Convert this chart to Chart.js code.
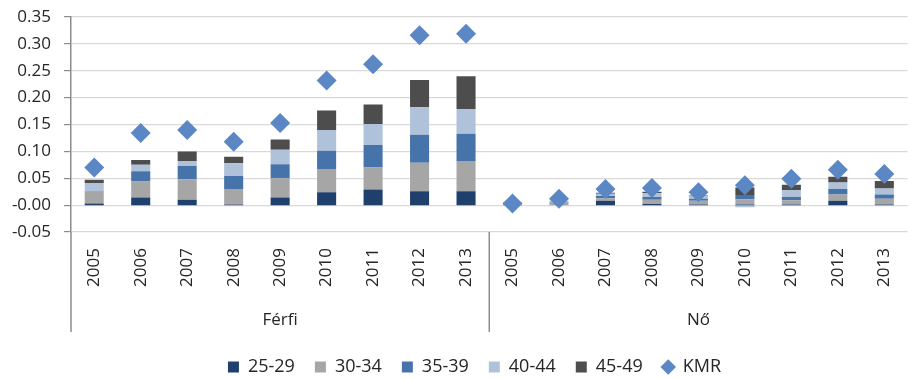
<!DOCTYPE html>
<html>
<head>
<meta charset="utf-8">
<script src="https://cdn.jsdelivr.net/npm/chart.js@4"></script>
<style>
  html, body { margin: 0; padding: 0; background: #fff; overflow: hidden; }
  /* the original plot runs a little past the right edge of the picture */
  #wrap { width: 921px; height: 379px; }
</style>
</head>
<body>
<div id="wrap"><canvas id="chart"></canvas></div>
<script>
// categories: two groups of years
const groups = ['Férfi', 'Nő'];
const years = ['2005', '2006', '2007', '2008', '2009', '2010', '2011', '2012', '2013'];
const labels = years.concat(years);

// age group shares (Férfi 2005-2013, then Nő 2005-2013)
const age2529 = [0.003, 0.014, 0.010, 0.001, 0.014, 0.024, 0.029, 0.026, 0.026,
                 0.000, 0.000, 0.008, 0.002, 0.001, 0.001, 0.001, 0.008, 0.001];
const age3034 = [0.022, 0.030, 0.038, 0.029, 0.036, 0.043, 0.041, 0.053, 0.056,
                 0.004, 0.005, 0.005, 0.008, 0.007, 0.010, 0.008, 0.012, 0.011];
const age3539 = [0.001, 0.019, 0.025, 0.024, 0.026, 0.034, 0.042, 0.052, 0.051,
                 0.000, 0.001, 0.004, 0.005, 0.004, 0.008, 0.006, 0.010, 0.008];
const age4044 = [0.015, 0.012, 0.009, 0.024, 0.027, 0.039, 0.039, 0.051, 0.046,
                 0.002, 0.002, 0.004, 0.007, 0.005, -0.004, 0.013, 0.012, 0.011];
const age4549 = [0.006, 0.009, 0.018, 0.012, 0.019, 0.036, 0.036, 0.051, 0.061,
                 0.000, 0.000, 0.002, 0.003, 0.001, 0.014, 0.010, 0.011, 0.014];
const kmr = [0.070, 0.134, 0.140, 0.118, 0.153, 0.232, 0.262, 0.316, 0.319,
             0.003, 0.012, 0.030, 0.032, 0.024, 0.037, 0.049, 0.066, 0.058];

const FONT = "'Open Sans', sans-serif";
const TEXT = '#262626';
const AXIS = '#8c8c8c';

function barSet(label, data, color) {
    return {
        type: 'bar', label: label, data: data,
        backgroundColor: color, borderWidth: 0,
        pointStyle: 'rect', order: 1,
        barPercentage: 0.41, categoryPercentage: 1
    };
}

// group labels + separators under the axis
const groupPlugin = {
    id: 'groups',
    afterLayout(chart) {
        // legend sits a bit right of the canvas centre in the original
        if (chart.legend) {
            chart.legend.left += 14;
            chart.legend.right += 14;
        }
    },
    afterDraw(chart) {
        const { ctx, chartArea, scales: { x } } = chart;
        const lineBottom = 332;
        const mid = (x.getPixelForValue(8) + x.getPixelForValue(9)) / 2;
        ctx.save();
        ctx.strokeStyle = AXIS;
        ctx.lineWidth = 1.5;
        [chartArea.left, mid].forEach(px => {
            ctx.beginPath();
            ctx.moveTo(px, chartArea.bottom);
            ctx.lineTo(px, lineBottom);
            ctx.stroke();
        });
        ctx.fillStyle = TEXT;
        ctx.font = '17px ' + FONT;
        ctx.textAlign = 'center';
        ctx.textBaseline = 'middle';
        const c1 = (x.getPixelForValue(0) + x.getPixelForValue(8)) / 2;
        const c2 = (x.getPixelForValue(9) + x.getPixelForValue(17)) / 2;
        ctx.fillText(groups[0], c1, 320);
        ctx.fillText(groups[1], c2, 320);
        ctx.restore();
    }
};

new Chart(document.getElementById('chart'), {
    data: {
        labels: labels,
        datasets: [
            {
                type: 'line', label: 'KMR', data: kmr,
                showLine: false, pointStyle: 'rectRot',
                pointRadius: 10, pointHoverRadius: 10,
                backgroundColor: '#5b87c4', borderColor: '#5b87c4', borderWidth: 0,
                order: 0, stack: 'kmr'
            },
            barSet('25-29', age2529, '#1f3f6d'),
            barSet('30-34', age3034, '#a6a6a6'),
            barSet('35-39', age3539, '#4673aa'),
            barSet('40-44', age4044, '#b0c2d9'),
            barSet('45-49', age4549, '#4d4d4d')
        ]
    },
    options: {
        responsive: true,
        maintainAspectRatio: false,
        animation: false,
        layout: { padding: { top: 17, right: 0, left: 0, bottom: -7 } },
        plugins: {
            legend: {
                position: 'bottom',
                labels: {
                    // KMR goes last, as in the original
                    sort: (a, b) => (a.text === 'KMR') - (b.text === 'KMR'),
                    usePointStyle: true,
                    boxWidth: 11, boxHeight: 11,
                    padding: 20,
                    color: TEXT,
                    font: { family: FONT, size: 18 }
                }
            },
            tooltip: { enabled: false }
        },
        scales: {
            x: {
                stacked: true,
                grid: { display: false, drawTicks: false },
                border: { display: false },
                ticks: {
                    autoSkip: false, minRotation: 90, maxRotation: 90,
                    padding: 16, color: TEXT,
                    font: { family: FONT, size: 17 }
                },
                afterFit: s => { s.height = 106; }
            },
            y: {
                stacked: true,
                min: -0.05, max: 0.35,
                grid: {
                    color: c => c.tick && c.tick.value === 0 ? AXIS : '#d9d9d9',
                    lineWidth: c => c.tick && c.tick.value === 0 ? 2 : 1.2,
                    tickColor: AXIS, tickLength: 7
                },
                border: { display: true, color: AXIS, width: 1.5 },
                ticks: {
                    stepSize: 0.05, padding: 13, color: TEXT,
                    font: { family: FONT, size: 17 },
                    callback: v => v.toFixed(2)
                },
                afterFit: s => { s.width = 71; s.paddingTop = 0; }
            }
        }
    },
    plugins: [groupPlugin]
});
</script>
</body>
</html>
